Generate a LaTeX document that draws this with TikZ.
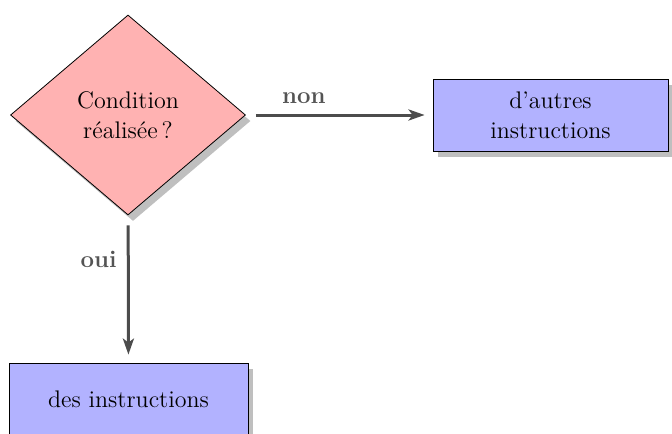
\documentclass[tikz,border=0pt]{standalone}
\usetikzlibrary{shapes.geometric,shadows,arrows.meta}
\begin{document}
\begin{tikzpicture}[x=0.5pt,y=-0.5pt,
  base/.style={font=\fontsize{12}{15}\selectfont, draw=black, line width=0.4pt, align=center,
    drop shadow={shadow xshift=2.5pt, shadow yshift=-3pt, fill=black!25, opacity=1}},
  decision/.style={base, diamond, fill=red!30, minimum width=117.5pt, minimum height=100pt, inner sep=0pt},
  block/.style={base, rectangle, fill=blue!30, minimum height=36pt, inner sep=0pt},
  link/.style={draw=black!70, line width=1.5pt, -{Stealth[length=8pt,width=5.5pt,inset=2pt]}, shorten <=5pt, shorten >=4pt},
  lab/.style={font=\fontsize{12}{15}\selectfont\bfseries, text=black!67}]
\useasboundingbox (0,0) rectangle (672,433);
\node[decision] (c) at (128,115) {Condition\\réalisée\,?};
\node[block, minimum width=117.5pt] (a) at (550.5,115) {d'autres\\instructions};
\node[block, minimum width=119.5pt] (d) at (128.5,399) {des instructions};
\draw[link] (c) -- node[lab, pos=0.31, above=1.5pt] {non} (a);
\draw[link] (c) -- node[lab, pos=0.3, left=1.7pt] {oui} (d);
\end{tikzpicture}
\end{document}
